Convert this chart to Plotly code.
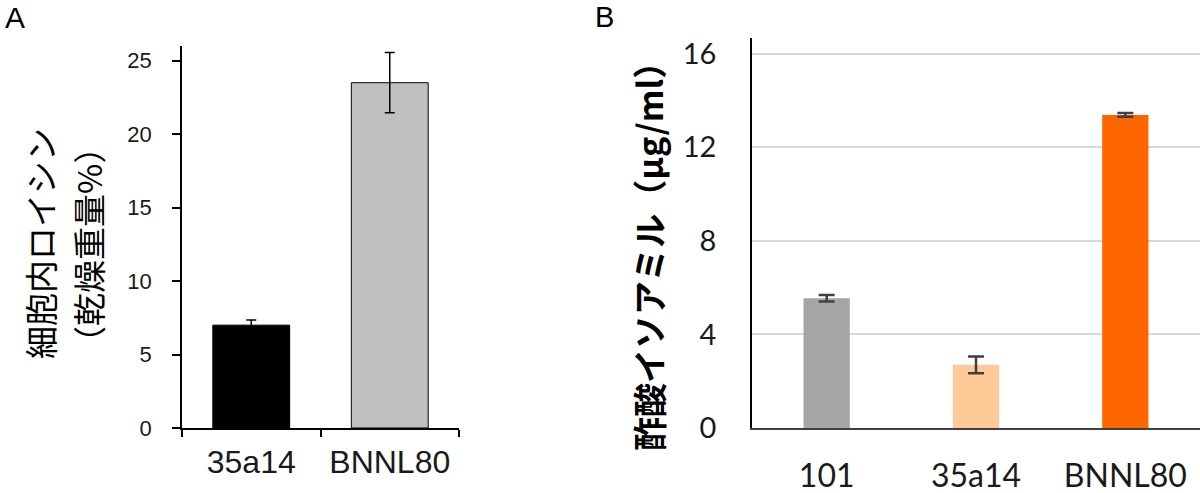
import plotly.graph_objects as go

W, H = 1200, 493

# Panel A data
a_categories = ["35a14", "BNNL80"]
a_values = [7.0, 23.5]
a_errors = [0.35, 2.05]
a_colors = ["#000000", "#c0c0c0"]

# Panel B data
b_categories = ["101", "35a14", "BNNL80"]
b_values = [5.55, 2.7, 13.38]
b_errors = [0.14, 0.36, 0.08]
b_colors = ["#a5a5a5", "#fdca98", "#ff6600"]

a_ticks = [0, 5, 10, 15, 20, 25]
b_ticks = [0, 4, 8, 12, 16]

def px_x(x):
    return x / W

def px_y(y):
    return 1 - y / H

fig = go.Figure()

fig.add_trace(go.Bar(
    x=a_categories, y=a_values, width=0.555,
    marker=dict(color=a_colors, line=dict(color="#000000", width=1)),
    error_y=dict(type="data", array=a_errors, color="#000000", thickness=1.5, width=5),
    xaxis="x", yaxis="y", showlegend=False,
))

fig.add_trace(go.Bar(
    x=b_categories, y=b_values, width=0.31,
    marker=dict(color=b_colors, line=dict(width=0)),
    error_y=dict(type="data", array=b_errors, color="#404040", thickness=2.5, width=8),
    xaxis="x2", yaxis="y2", showlegend=False,
))

ARIAL = "Liberation Sans, Arial, sans-serif"
LATO = "Lato, Open Sans, sans-serif"
CJK = "Noto Sans CJK JP, sans-serif"

fig.update_layout(
    width=W, height=H, autosize=False,
    margin=dict(l=0, r=0, t=0, b=0, autoexpand=False),
    paper_bgcolor="white", plot_bgcolor="white",
    xaxis=dict(
        domain=[px_x(182), px_x(459)], anchor="y", type="category", automargin=False,
        range=[-0.5, 1.5], showline=True, linecolor="#000000", linewidth=1.5,
        ticks="outside", tickson="boundaries", ticklen=7, tickcolor="#000000", tickwidth=1.5,
        tickfont=dict(family=ARIAL, size=32, color="#1a1a1a"),
        ticklabelstandoff=5, showgrid=False, zeroline=False,
    ),
    yaxis=dict(
        domain=[px_y(428), px_y(46)], anchor="x", automargin=False,
        range=[0, 26], tickvals=a_ticks, showline=True, linecolor="#000000", linewidth=1.5,
        ticks="outside", ticklen=8, tickcolor="#000000", tickwidth=1.5,
        tickfont=dict(family=ARIAL, size=22, color="#1a1a1a"),
        ticklabelstandoff=16, showgrid=False, zeroline=False,
    ),
    xaxis2=dict(
        domain=[px_x(752), 1.0], anchor="y2", type="category", automargin=False,
        range=[-0.5, 2.5], showline=True, linecolor="#404040", linewidth=1.5,
        ticks="", tickfont=dict(family=LATO, size=32, color="#1a1a1a"),
        ticklabelstandoff=19, showgrid=False, zeroline=False,
    ),
    yaxis2=dict(
        domain=[px_y(428), px_y(38)], anchor="x2", automargin=False,
        range=[0, 16.67], tickvals=b_ticks, showline=True, linecolor="#000000", linewidth=1.5,
        ticks="", tickfont=dict(family=LATO, size=29, color="#1a1a1a"),
        ticklabelstandoff=28, showgrid=True, gridcolor="#d9d9d9", gridwidth=2,
        zeroline=False,
    ),
)

annotations = [
    dict(text="A", x=px_x(4), y=1.0, xanchor="left", yanchor="top", borderpad=0,
         font=dict(family=ARIAL, size=30, color="#000000")),
    dict(text="B", x=px_x(594), y=1.0, xanchor="left", yanchor="top", borderpad=0,
         font=dict(family=ARIAL, size=29, color="#000000")),
    dict(text="細胞内ロイシン", x=px_x(40), y=px_y(244), textangle=-90,
         font=dict(family=CJK, size=33, color="#000000")),
    dict(text="（乾燥重量%）", x=px_x(88), y=px_y(245), textangle=-90,
         font=dict(family=CJK, size=33, color="#000000")),
    dict(text="<b>酢酸イソアミル（μg/ml）</b>", x=px_x(648), y=px_y(248), textangle=-90,
         font=dict(family=CJK, size=34, color="#000000")),
]
for a in annotations:
    a.setdefault("xanchor", "center")
    a.setdefault("yanchor", "middle")
    a.update(xref="paper", yref="paper", showarrow=False)
fig.update_layout(annotations=annotations)

fig.write_html(
    "out.html",
    config={"displayModeBar": False},
    post_script="document.body.style.margin='0';document.body.style.padding='0';document.body.style.overflow='hidden';",
)
